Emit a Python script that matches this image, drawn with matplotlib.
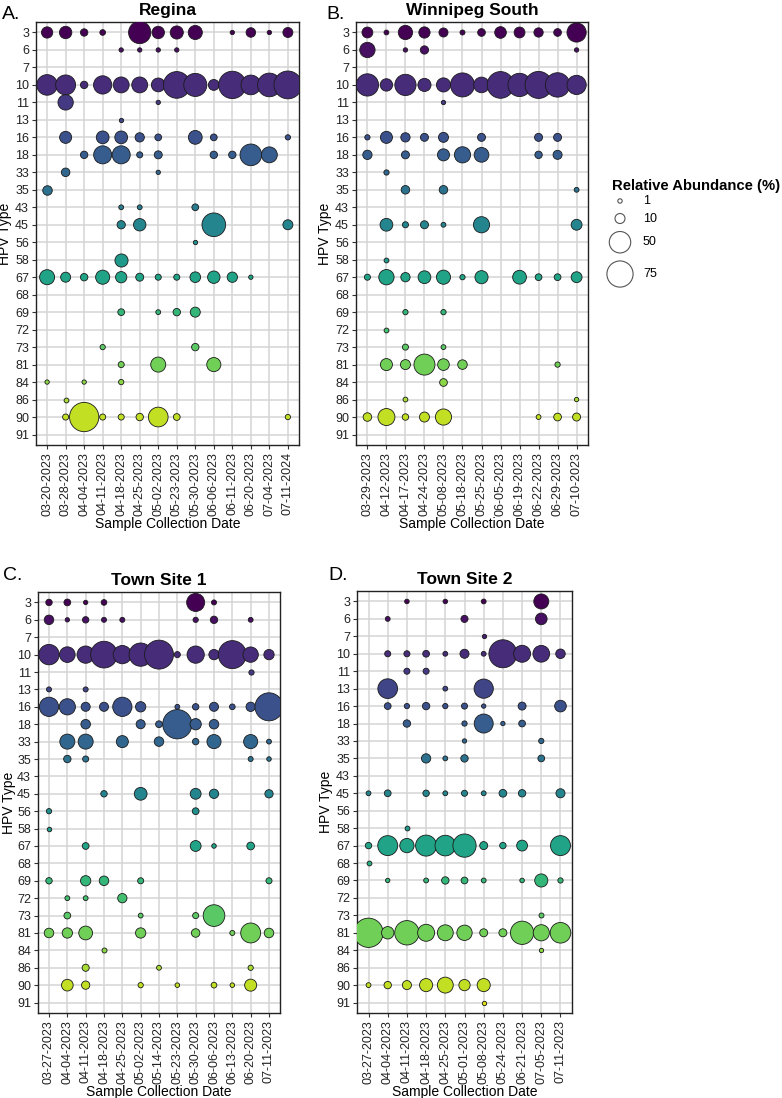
import numpy as np
import matplotlib
matplotlib.use('Agg')
import matplotlib.pyplot as plt

plt.rcParams['font.family'] = ['Liberation Sans', 'DejaVu Sans']

# ─── Data (relative abundance %) ──────────────────────────────────────────────

HPV_TYPES = [3, 6, 7, 10, 11, 13, 16, 18, 33, 35, 43, 45, 56, 58,
             67, 68, 69, 72, 73, 81, 84, 86, 90, 91]

REGINA_DATES = ['03-20-2023', '03-28-2023', '04-04-2023', '04-11-2023',
                '04-18-2023', '04-25-2023', '05-02-2023', '05-23-2023',
                '05-30-2023', '06-06-2023', '06-11-2023', '06-20-2023',
                '07-04-2023', '07-11-2024']
REGINA = {
    3:  [13, 16, 5, 2.5, 0, 54, 16, 18, 21, 0, 1, 9, 1, 10],
    6:  [0, 0, 0, 0, 1, 1, 1, 1, 0, 0, 0, 0, 0, 0],
    10: [46, 43, 5, 36, 27, 27, 20, 78, 58, 12, 82, 42, 61, 85],
    11: [0, 25, 0, 0, 0, 0, 1, 0, 0, 0, 0, 0, 0, 0],
    13: [0, 0, 0, 0, 1, 0, 0, 0, 0, 0, 0, 0, 0, 0],
    16: [0, 15, 0, 17, 17, 8.5, 4, 0, 20, 4, 0, 0, 0, 2],
    18: [0, 0, 5, 35, 35, 3, 6, 0, 0, 5, 5, 51, 27, 0],
    33: [0, 7, 0, 0, 0, 0, 1, 0, 0, 0, 0, 0, 0, 0],
    35: [9, 0, 0, 0, 0, 0, 0, 0, 0, 0, 0, 0, 0, 0],
    43: [0, 0, 0, 0, 1.5, 1.5, 0, 0, 4, 0, 0, 0, 0, 0],
    45: [0, 0, 0, 0, 6.5, 16, 0, 0, 0, 61, 0, 0, 0, 10],
    56: [0, 0, 0, 0, 0, 0, 0, 0, 1, 0, 0, 0, 0, 0],
    58: [0, 0, 0, 0, 18, 0, 0, 0, 0, 0, 0, 0, 0, 0],
    67: [24, 10, 5, 21, 13, 6, 3, 3, 11.5, 16, 10.7, 1, 0, 0],
    69: [0, 0, 0, 0, 4, 0, 1.5, 5, 10, 0, 0, 0, 0, 0],
    73: [0, 0, 0, 2, 0, 0, 0, 0, 5, 0, 0, 0, 0, 0],
    81: [0, 0, 0, 0, 3, 0, 24, 0, 0, 21, 0, 0, 0, 0],
    84: [1, 0, 1, 0, 2, 0, 0, 0, 0, 0, 0, 0, 0, 0],
    86: [0, 1.5, 0, 0, 0, 0, 0, 0, 0, 0, 0, 0, 0, 0],
    90: [0, 3, 94, 3, 3, 5, 42, 4, 0, 0, 0, 0, 0, 2],
}

WINNIPEG_DATES = ['03-29-2023', '04-12-2023', '04-17-2023', '04-24-2023',
                  '05-08-2023', '05-18-2023', '05-25-2023', '06-05-2023',
                  '06-19-2023', '06-22-2023', '06-29-2023', '07-10-2023']
WINNIPEG = {
    3:  [12, 1.5, 21.6, 13, 8, 1.7, 5.5, 14, 12, 8.5, 5.5, 40],
    6:  [25, 0, 1, 6.5, 0, 0, 0, 0, 0, 0, 0, 1],
    10: [54, 16, 49, 18, 21, 63, 26, 78, 59, 80, 65, 40],
    11: [0, 0, 0, 0, 1, 0, 0, 0, 0, 0, 0, 0],
    16: [2, 15, 8.5, 6, 10, 0, 6, 0, 0, 6, 6, 0],
    18: [8.5, 0, 6, 0, 15, 28, 23, 0, 0, 5, 8, 0],
    33: [0, 2, 0, 0, 0, 0, 0, 0, 0, 0, 0, 0],
    35: [0, 0, 7, 0, 7, 0, 0, 0, 0, 0, 0, 1.5],
    45: [0, 17, 3, 6, 1.5, 0, 28, 0, 0, 0, 0, 12],
    58: [0, 1.5, 0, 0, 0, 0, 0, 0, 0, 0, 0, 0],
    67: [3, 25, 8.5, 17, 21, 2, 18, 0, 20, 4, 4, 12],
    69: [0, 0, 2, 0, 2, 0, 0, 0, 0, 0, 0, 0],
    72: [0, 1.5, 0, 0, 0, 0, 0, 0, 0, 0, 0, 0],
    73: [0, 0, 3, 0, 1.5, 0, 0, 0, 0, 0, 0, 0],
    81: [0, 15, 10, 48, 14, 9, 0, 0, 0, 0, 2, 0],
    84: [0, 0, 0, 0, 5.5, 0, 0, 0, 0, 0, 0, 0],
    86: [0, 0, 1.5, 0, 0, 0, 0, 0, 0, 0, 0, 1],
    90: [7, 31, 3.5, 10, 28, 0, 0, 0, 0, 1.5, 5.5, 6],
}

TOWN1_DATES = ['03-27-2023', '04-04-2023', '04-11-2023', '04-18-2023',
               '04-25-2023', '05-02-2023', '05-14-2023', '05-23-2023',
               '05-30-2023', '06-06-2023', '06-13-2023', '06-20-2023',
               '07-11-2023']
TOWN1 = {
    3:  [3.5, 4, 1, 2.5, 0, 0, 0, 0, 35, 1.7, 0, 0, 0],
    6:  [9, 1, 3.5, 1.7, 1.7, 0, 0, 0, 2, 5, 0, 1.5, 0],
    10: [45, 26, 32, 78, 36, 59, 92, 3, 32, 10.7, 86, 25, 10.7],
    11: [0, 0, 0, 0, 0, 0, 0, 0, 0, 0, 0, 2, 0],
    13: [1.7, 0, 1.7, 0, 0, 0, 0, 0, 0, 0, 0, 0, 0],
    16: [40, 28, 8, 8, 40, 10.7, 0, 1.5, 3.5, 8, 2.5, 8.5, 86],
    18: [0, 0, 9, 0, 0, 8, 4, 94, 13, 9, 0, 0, 0],
    33: [0, 24, 24, 0, 15, 0, 9, 0, 3.5, 21, 0, 21, 1.5],
    35: [0, 5, 3, 0, 0, 0, 0, 0, 0, 0, 0, 1.7, 1.2],
    45: [0, 0, 0, 3.5, 0, 17, 0, 0, 12, 8.5, 0, 0, 6.5],
    56: [2, 0, 0, 0, 0, 0, 0, 0, 4, 0, 0, 0, 0],
    58: [1.2, 0, 0, 0, 0, 0, 0, 0, 0, 0, 0, 0, 0],
    67: [0, 0, 4, 0, 0, 0, 0, 0, 12, 1.2, 0, 5.5, 0],
    69: [3.5, 0, 10.7, 9, 0, 3, 0, 0, 0, 0, 0, 0, 3],
    72: [0, 1.5, 1.5, 0, 8.5, 0, 0, 0, 0, 0, 0, 0, 0],
    73: [0, 4, 0, 0, 0, 1.5, 0, 0, 3, 51, 0, 0, 0],
    81: [9, 10.7, 20, 0, 0, 10.7, 0, 0, 7, 0, 1.7, 43, 9],
    84: [0, 0, 0, 1.7, 0, 0, 0, 0, 0, 0, 0, 0, 0],
    86: [0, 0, 4.5, 0, 0, 0, 1.5, 0, 0, 0, 0, 2, 0],
    90: [0, 14, 6.5, 0, 0, 2, 0, 1.2, 0, 2.5, 1.2, 15, 0],
}

TOWN2_DATES = ['03-27-2023', '04-04-2023', '04-11-2023', '04-18-2023',
               '04-25-2023', '05-01-2023', '05-08-2023', '05-24-2023',
               '06-21-2023', '07-05-2023', '07-11-2023']
TOWN2 = {
    3:  [0, 0, 1.2, 0, 1.2, 0, 1.5, 0, 0, 24, 0],
    6:  [0, 1.5, 0, 0, 0, 4.5, 0, 0, 0, 14, 0],
    7:  [0, 0, 0, 0, 0, 0, 1, 0, 0, 0, 0],
    10: [0, 3, 3, 4, 1.5, 8, 1.5, 86, 31, 30, 9],
    11: [0, 0, 3, 3, 0, 0, 0, 0, 0, 0, 0],
    13: [0, 42, 0, 0, 1.5, 0, 40, 0, 0, 0, 0],
    16: [0, 4, 2, 5, 2, 3, 1, 0, 6, 0, 14],
    18: [0, 0, 5, 0, 0, 2, 39, 1, 4, 0, 0],
    33: [0, 0, 0, 0, 0, 1, 0, 0, 0, 2, 0],
    35: [0, 0, 0, 8.5, 1.5, 5, 0, 0, 0, 4, 0],
    45: [1.5, 4, 0, 3.5, 1.5, 3, 1.5, 5.5, 5, 0, 8],
    58: [0, 0, 1.5, 0, 0, 0, 0, 0, 0, 0, 0],
    67: [3.5, 43, 21.6, 48, 46, 59, 6, 3.5, 12, 0, 43],
    68: [1.5, 0, 0, 0, 0, 0, 0, 0, 0, 0, 0],
    69: [0, 1, 0, 1.5, 5, 4, 1.5, 0, 1.2, 18, 2],
    73: [0, 0, 0, 0, 0, 0, 0, 0, 0, 1.7, 0],
    81: [94, 16, 65, 31, 27, 25, 6, 6, 59, 28, 46],
    84: [0, 0, 0, 0, 0, 0, 0, 0, 0, 1, 0],
    90: [1.5, 5, 8, 18, 27, 13, 18, 0, 0, 0, 0],
    91: [0, 0, 0, 0, 0, 0, 1, 0, 0, 0, 0],
}

LEGEND_BREAKS = [1, 10, 50, 75]

PANELS = [
    ('A.', 'Regina', REGINA_DATES, REGINA),
    ('B.', 'Winnipeg South', WINNIPEG_DATES, WINNIPEG),
    ('C.', 'Town Site 1', TOWN1_DATES, TOWN1),
    ('D.', 'Town Site 2', TOWN2_DATES, TOWN2),
]

# ─── Layout (pixels of the 782x1098 output) ───────────────────────────────────

W, H, DPI = 782, 1098, 100
AX_BOXES = [(36, 299, 22, 445), (356, 588, 22, 445),
            (38, 280, 592, 1013), (357, 572, 591, 1013)]
LETTER_POS = [(2, 19), (326, 19), (3, 580), (328, 580)]
YLABEL_PAD = [2, 2, 0.5, 2]

COLORS = plt.cm.viridis(np.linspace(0, 0.95, len(HPV_TYPES)))
GRID_COLOR = '#D4D4D4'
EDGE_COLOR = '#1a1a1a'


def bubble_area(v):
    # diameter^2 (px) grows linearly with abundance, converted to pt^2
    return (10 + 9 * np.asarray(v, dtype=float)) * (72 / DPI) ** 2


def fig_rect(l, r, t, b):
    return [l / W, 1 - b / H, (r - l) / W, (b - t) / H]


def draw_panel(ax, title, dates, rows, ypad):
    ax.set_axisbelow(True)
    xs = np.arange(len(dates))
    for i, t in enumerate(HPV_TYPES):
        if t not in rows:
            continue
        vals = np.asarray(rows[t], dtype=float)
        m = vals > 0
        ax.scatter(xs[m], np.full(m.sum(), i), s=bubble_area(vals[m]),
                   color=COLORS[i], edgecolor=EDGE_COLOR, linewidth=0.6,
                   zorder=3)

    ax.set_xlim(-0.6, len(dates) - 0.4)
    ax.set_ylim(len(HPV_TYPES) - 0.4, -0.6)
    ax.set_xticks(xs)
    ax.set_xticklabels(dates, rotation=90, fontsize=9, color='#222222')
    ax.set_yticks(range(len(HPV_TYPES)))
    ax.set_yticklabels([str(t) for t in HPV_TYPES], fontsize=9, color='#222222')
    ax.tick_params(length=3, width=0.8, color='#333333', pad=2)
    ax.grid(True, color=GRID_COLOR, linewidth=1.1)
    for sp in ax.spines.values():
        sp.set_color('#222222')
        sp.set_linewidth(1.0)

    ax.set_title(title, fontsize=12.5, fontweight='bold', pad=5)
    ax.set_xlabel('Sample Collection Date', fontsize=10, labelpad=1)
    ax.set_ylabel('HPV Type', fontsize=10, labelpad=ypad)


def draw_legend(fig):
    lax = fig.add_axes(fig_rect(600, 782, 160, 300))
    lax.set_xlim(0, 182)
    lax.set_ylim(140, 0)
    lax.axis('off')
    lax.text(12, 26, 'Relative Abundance (%)', fontsize=10.7,
             fontweight='bold', va='center', ha='left')

    diam = np.sqrt(10 + 9 * np.asarray(LEGEND_BREAKS, dtype=float))
    heights = np.maximum(17, diam + 8)
    ys = 41 + np.concatenate([[0], np.cumsum((heights[:-1] + heights[1:]) / 2)])
    lax.scatter(np.full(len(ys), 20), ys, s=bubble_area(LEGEND_BREAKS),
                facecolor='white', edgecolor='#555555', linewidth=0.8,
                clip_on=False)
    for y, b in zip(ys, LEGEND_BREAKS):
        lax.text(43, y, str(b), fontsize=9, va='center', ha='left')


def main():
    fig = plt.figure(figsize=(W / DPI, H / DPI), dpi=DPI)
    for (letter, title, dates, rows), box, lp, yp in zip(PANELS, AX_BOXES,
                                                         LETTER_POS, YLABEL_PAD):
        ax = fig.add_axes(fig_rect(*box))
        draw_panel(ax, title, dates, rows, yp)
        fig.text(lp[0] / W, 1 - lp[1] / H, letter, fontsize=14,
                 ha='left', va='baseline')
    draw_legend(fig)
    fig.savefig('out.png', dpi=DPI)


if __name__ == '__main__':
    main()
